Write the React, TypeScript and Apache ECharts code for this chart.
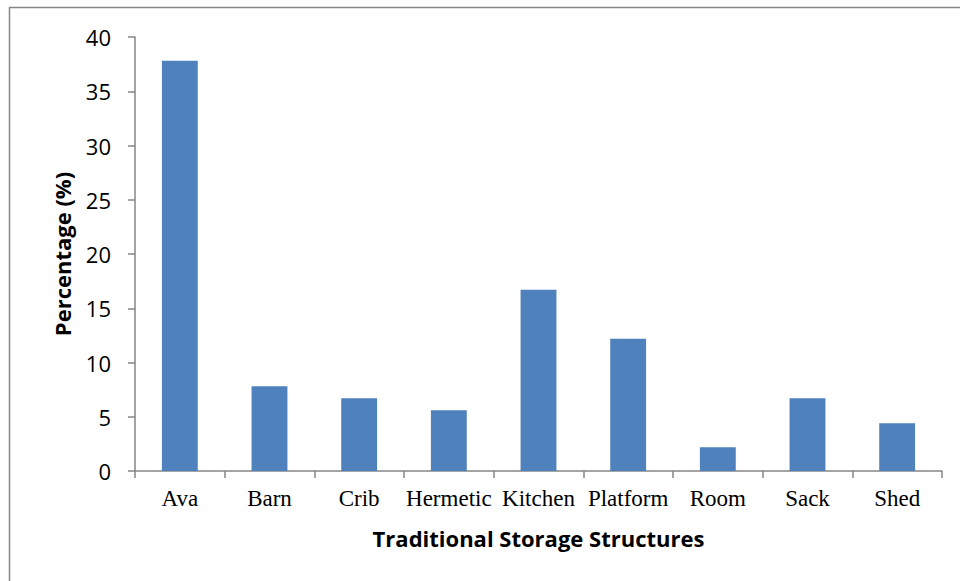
import React, { useEffect, useRef } from "react";
import * as echarts from "echarts";

const categories = ["Ava", "Barn", "Crib", "Hermetic", "Kitchen", "Platform", "Room", "Sack", "Shed"];
const percentages = [37.8, 7.8, 6.7, 5.6, 16.7, 12.2, 2.2, 6.7, 4.4];
const yTicks = { min: 0, max: 40, interval: 5 };

const AXIS_GREY = "#868686";
const BAR_BLUE = "#4F81BD";

export default function App() {
  const ref = useRef<HTMLDivElement>(null);

  useEffect(() => {
    if (!ref.current) return;
    const chart = echarts.init(ref.current, undefined, { renderer: "svg" });
    chart.setOption({
      animation: false,
      backgroundColor: "#ffffff",
      graphic: [
        {
          type: "rect",
          shape: { x: 9.5, y: 7.5, width: 960, height: 600 },
          style: { fill: "none", stroke: AXIS_GREY, lineWidth: 1.5 },
          silent: true,
        },
      ],
      grid: { left: 135, right: 18, top: 37, bottom: 110, containLabel: false },
      xAxis: {
        type: "category",
        data: categories,
        name: "Traditional Storage Structures",
        nameLocation: "middle",
        nameGap: 56,
        nameTextStyle: { fontFamily: "Open Sans", fontWeight: "bold", fontSize: 22, color: "#000" },
        axisLine: { lineStyle: { color: AXIS_GREY, width: 1.5 } },
        axisTick: { show: true, alignWithLabel: false, length: 7, lineStyle: { color: AXIS_GREY, width: 1.5 } },
        axisLabel: { fontFamily: "Liberation Serif", fontSize: 23, color: "#000", margin: 16, interval: 0 },
      },
      yAxis: {
        type: "value",
        min: yTicks.min,
        max: yTicks.max,
        interval: yTicks.interval,
        name: "Percentage (%)",
        nameLocation: "middle",
        nameGap: 62,
        nameRotate: 90,
        nameTextStyle: { fontFamily: "Open Sans", fontWeight: "bold", fontSize: 22, color: "#000" },
        splitLine: { show: false },
        axisLine: { show: true, lineStyle: { color: AXIS_GREY, width: 1.5 } },
        axisTick: { show: true, length: 7, lineStyle: { color: AXIS_GREY, width: 1.5 } },
        axisLabel: { fontFamily: "Open Sans", fontSize: 22, color: "#000", margin: 24 },
      },
      series: [
        {
          type: "bar",
          data: percentages,
          barWidth: "40%",
          itemStyle: { color: BAR_BLUE },
        },
      ],
    });
    return () => chart.dispose();
  }, []);

  return (
    <div
      ref={ref}
      style={{ position: "absolute", left: 0, top: 0, width: 960, height: 581 }}
    />
  );
}
